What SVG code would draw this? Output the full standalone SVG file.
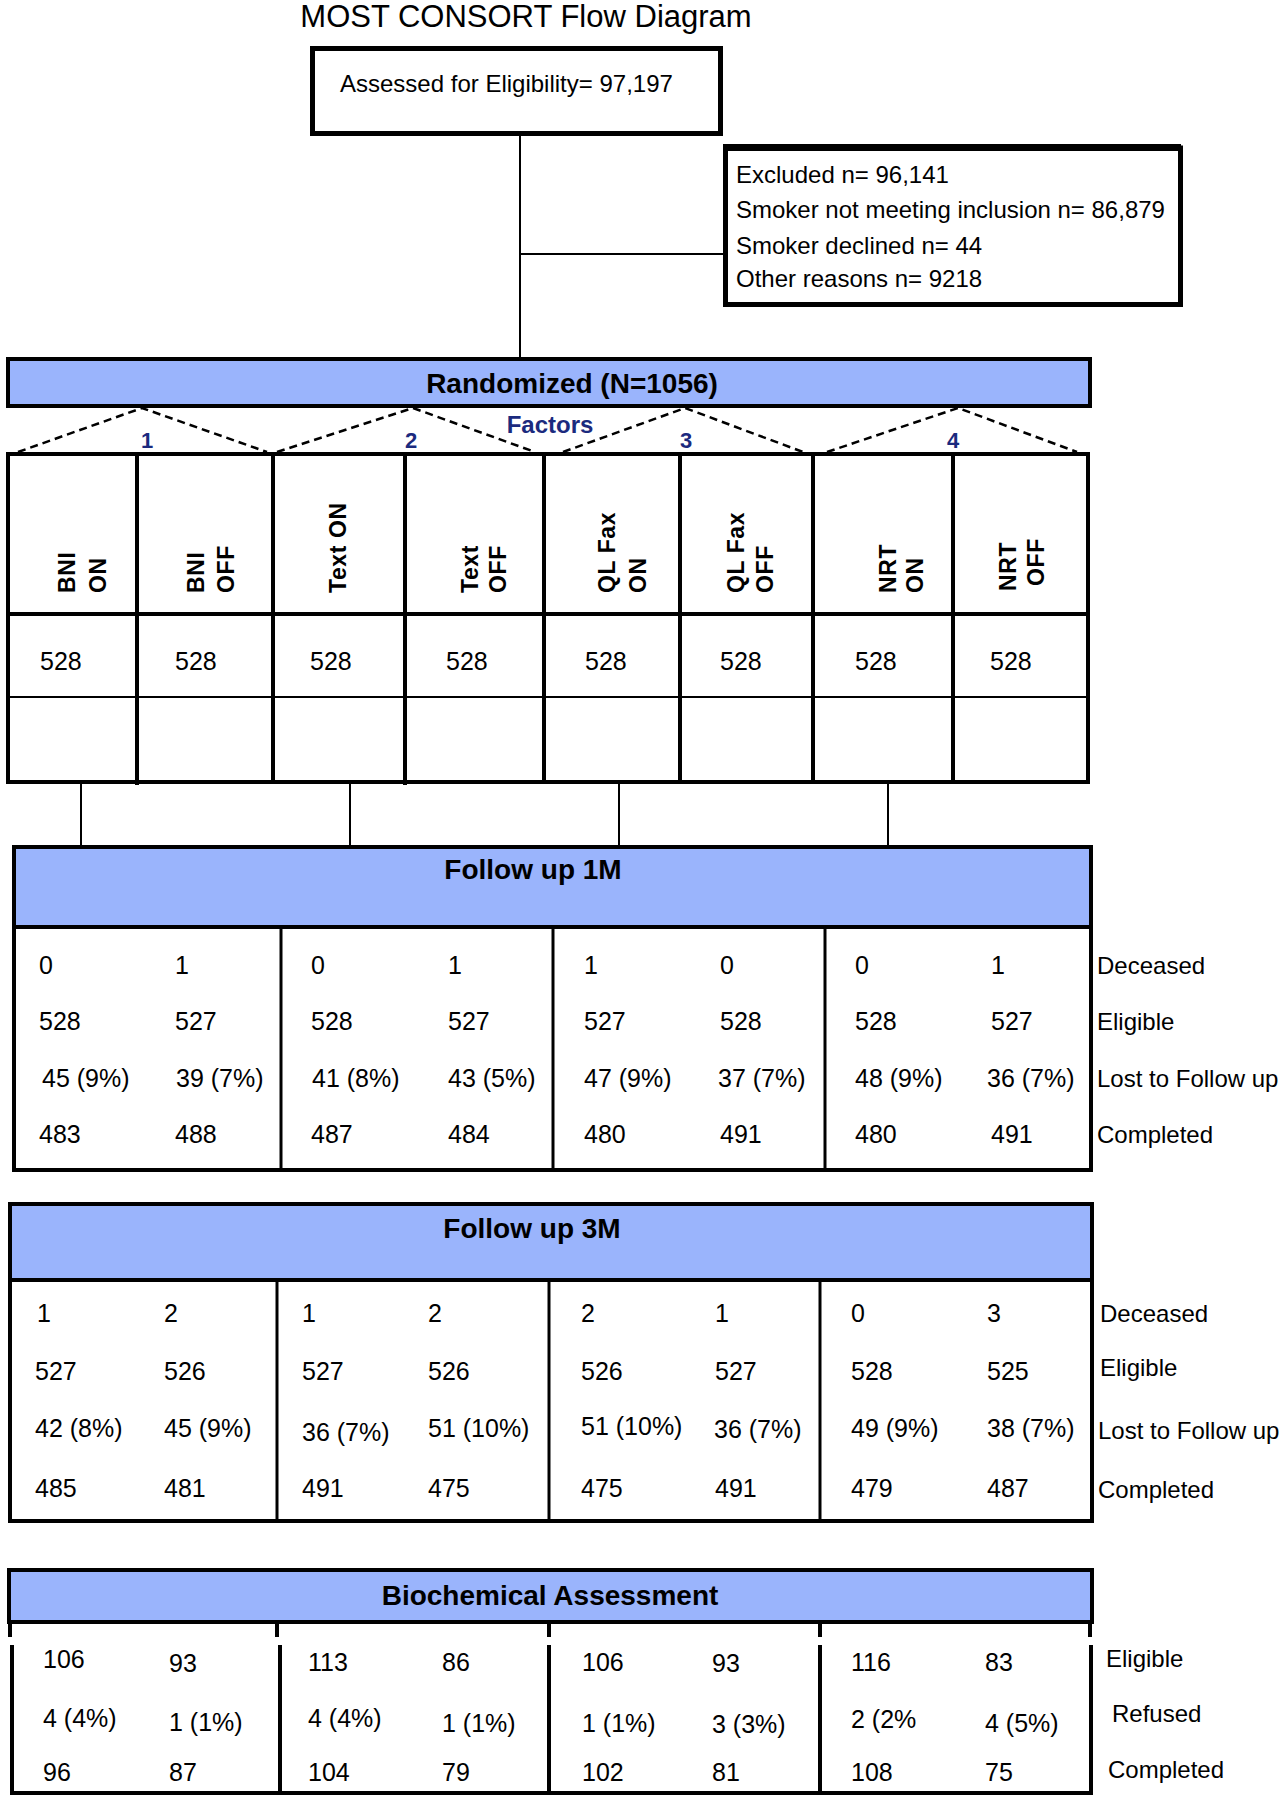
<svg xmlns="http://www.w3.org/2000/svg" width="1283" height="1800" viewBox="0 0 1283 1800">
<style>
text { font-family: "Liberation Sans", Arial, sans-serif; fill: #000; }
.title { font-size: 31px; text-anchor: middle; }
.t24 { font-size: 24px; }
.num { font-size: 25px; }
.lbl { font-size: 24px; }
.hdr { font-size: 28px; font-weight: bold; text-anchor: middle; }
.rot { font-size: 23px; font-weight: bold; letter-spacing: 0.6px; }
.fac { font-size: 22px; font-weight: bold; fill: #1B2A7E; text-anchor: middle; }
.facw { font-size: 24px; }
.box { fill: #fff; stroke: #000; stroke-width: 5; }
.blue { fill: #9AB4FC; stroke: #000; stroke-width: 4; }
.white { fill: #fff; stroke: #000; stroke-width: 4; }
.thick { stroke: #000; stroke-width: 4; fill: none; }
.mid { stroke: #000; stroke-width: 3; fill: none; }
.thin { stroke: #000; stroke-width: 2; fill: none; }
.dash { stroke: #000; stroke-width: 2.5; stroke-dasharray: 8 5; fill: none; }
</style>

<g id="title">
  <text class="title" x="526" y="27">MOST CONSORT Flow Diagram</text>
</g>

<g id="connectors">
  <line class="thin" x1="520" y1="136" x2="520" y2="357"/>
  <line class="thin" x1="520" y1="254" x2="723" y2="254"/>
  <line class="thin" x1="81" y1="784" x2="81" y2="845"/>
  <line class="thin" x1="350" y1="784" x2="350" y2="845"/>
  <line class="thin" x1="619" y1="784" x2="619" y2="845"/>
  <line class="thin" x1="888" y1="784" x2="888" y2="845"/>
  <polyline class="dash" points="18,452 142,408 267,452"/>
  <polyline class="dash" points="277,452 413,408 535,452"/>
  <polyline class="dash" points="563,452 685,408 803,452"/>
  <polyline class="dash" points="827,452 958,408 1077,452"/>
</g>

<g id="assessed">
  <rect class="box" x="312.5" y="48.5" width="408" height="85"/>
  <text class="t24" x="340" y="92">Assessed for Eligibility= 97,197</text>
</g>

<g id="excluded">
  <rect class="box" x="725.5" y="148" width="455" height="156.5"/>
  <rect x="723" y="144" width="458" height="7" fill="#000"/>
  <text class="t24" x="736" y="183">Excluded n= 96,141</text>
  <text class="t24" x="736" y="218">Smoker not meeting inclusion n= 86,879</text>
  <text class="t24" x="736" y="254">Smoker declined n= 44</text>
  <text class="t24" x="736" y="287">Other reasons n= 9218</text>
</g>

<g id="randomized">
  <rect class="blue" x="8" y="359" width="1082" height="47"/>
  <text class="hdr" x="572" y="393">Randomized (N=1056)</text>
</g>

<g id="factors">
  <text class="fac facw" x="550" y="433">Factors</text>
  <text class="fac" x="147" y="448">1</text>
  <text class="fac" x="411" y="448">2</text>
  <text class="fac" x="686" y="448">3</text>
  <text class="fac" x="953" y="448">4</text>
</g>

<g id="arms">
  <rect class="white" x="8" y="454" width="1080" height="328"/>
  <line class="thick" x1="137" y1="454" x2="137" y2="785"/>
  <line class="thick" x1="273" y1="454" x2="273" y2="782"/>
  <line class="thick" x1="405" y1="454" x2="405" y2="785"/>
  <line class="thick" x1="544" y1="454" x2="544" y2="782"/>
  <line class="thick" x1="680" y1="454" x2="680" y2="782"/>
  <line class="thick" x1="813" y1="454" x2="813" y2="782"/>
  <line class="thick" x1="953" y1="454" x2="953" y2="782"/>
  <line class="thick" x1="8" y1="614" x2="1088" y2="614"/>
  <line class="thin" x1="8" y1="697" x2="1088" y2="697"/>
  <text class="rot" transform="translate(75,593) rotate(-90)">BNI</text>
  <text class="rot" transform="translate(106,593) rotate(-90)">ON</text>
  <text class="rot" transform="translate(204,593) rotate(-90)">BNI</text>
  <text class="rot" transform="translate(234,593) rotate(-90)">OFF</text>
  <text class="rot" transform="translate(346,593) rotate(-90)">Text ON</text>
  <text class="rot" transform="translate(478,593) rotate(-90)">Text</text>
  <text class="rot" transform="translate(506,593) rotate(-90)">OFF</text>
  <text class="rot" transform="translate(615,593) rotate(-90)">QL Fax</text>
  <text class="rot" transform="translate(646,593) rotate(-90)">ON</text>
  <text class="rot" transform="translate(744,593) rotate(-90)">QL Fax</text>
  <text class="rot" transform="translate(773,593) rotate(-90)">OFF</text>
  <text class="rot" transform="translate(896,593) rotate(-90)">NRT</text>
  <text class="rot" transform="translate(923,593) rotate(-90)">ON</text>
  <text class="rot" transform="translate(1016,591) rotate(-90)">NRT</text>
  <text class="rot" transform="translate(1044,586) rotate(-90)">OFF</text>
  <text class="num" x="40" y="670">528</text>
  <text class="num" x="175" y="670">528</text>
  <text class="num" x="310" y="670">528</text>
  <text class="num" x="446" y="670">528</text>
  <text class="num" x="585" y="670">528</text>
  <text class="num" x="720" y="670">528</text>
  <text class="num" x="855" y="670">528</text>
  <text class="num" x="990" y="670">528</text>
</g>

<g id="followup1m">
  <rect class="white" x="14" y="847" width="1077" height="323"/>
  <rect class="blue" x="14" y="847" width="1077" height="80"/>
  <text class="hdr" x="533" y="879">Follow up 1M</text>
  <line class="mid" x1="281" y1="927" x2="281" y2="1170"/>
  <line class="mid" x1="553" y1="927" x2="553" y2="1170"/>
  <line class="mid" x1="825" y1="927" x2="825" y2="1170"/>
  <g class="num">
    <text x="39" y="974">0</text><text x="175" y="974">1</text><text x="311" y="974">0</text><text x="448" y="974">1</text>
    <text x="584" y="974">1</text><text x="720" y="974">0</text><text x="855" y="974">0</text><text x="991" y="974">1</text>
    <text x="39" y="1030">528</text><text x="175" y="1030">527</text><text x="311" y="1030">528</text><text x="448" y="1030">527</text>
    <text x="584" y="1030">527</text><text x="720" y="1030">528</text><text x="855" y="1030">528</text><text x="991" y="1030">527</text>
    <text x="42" y="1087">45 (9%)</text><text x="176" y="1087">39 (7%)</text><text x="312" y="1087">41 (8%)</text><text x="448" y="1087">43 (5%)</text>
    <text x="584" y="1087">47 (9%)</text><text x="718" y="1087">37 (7%)</text><text x="855" y="1087">48 (9%)</text><text x="987" y="1087">36 (7%)</text>
    <text x="39" y="1143">483</text><text x="175" y="1143">488</text><text x="311" y="1143">487</text><text x="448" y="1143">484</text>
    <text x="584" y="1143">480</text><text x="720" y="1143">491</text><text x="855" y="1143">480</text><text x="991" y="1143">491</text>
  </g>
  <g class="lbl">
    <text x="1097" y="974">Deceased</text>
    <text x="1097" y="1030">Eligible</text>
    <text x="1097" y="1087">Lost to Follow up</text>
    <text x="1097" y="1143">Completed</text>
  </g>
</g>

<g id="followup3m">
  <rect class="white" x="10" y="1204" width="1082" height="317"/>
  <rect class="blue" x="10" y="1204" width="1082" height="76"/>
  <text class="hdr" x="532" y="1238">Follow up 3M</text>
  <line class="mid" x1="277" y1="1280" x2="277" y2="1521"/>
  <line class="mid" x1="549" y1="1280" x2="549" y2="1521"/>
  <line class="mid" x1="820" y1="1280" x2="820" y2="1521"/>
  <g class="num">
    <text x="37" y="1322">1</text><text x="164" y="1322">2</text><text x="302" y="1322">1</text><text x="428" y="1322">2</text>
    <text x="581" y="1322">2</text><text x="715" y="1322">1</text><text x="851" y="1322">0</text><text x="987" y="1322">3</text>
    <text x="35" y="1380">527</text><text x="164" y="1380">526</text><text x="302" y="1380">527</text><text x="428" y="1380">526</text>
    <text x="581" y="1380">526</text><text x="715" y="1380">527</text><text x="851" y="1380">528</text><text x="987" y="1380">525</text>
    <text x="35" y="1437">42 (8%)</text><text x="164" y="1437">45 (9%)</text><text x="302" y="1441">36 (7%)</text><text x="428" y="1437">51 (10%)</text>
    <text x="581" y="1435">51 (10%)</text><text x="714" y="1438">36 (7%)</text><text x="851" y="1437">49 (9%)</text><text x="987" y="1437">38 (7%)</text>
    <text x="35" y="1497">485</text><text x="164" y="1497">481</text><text x="302" y="1497">491</text><text x="428" y="1497">475</text>
    <text x="581" y="1497">475</text><text x="715" y="1497">491</text><text x="851" y="1497">479</text><text x="987" y="1497">487</text>
  </g>
  <g class="lbl">
    <text x="1100" y="1322">Deceased</text>
    <text x="1100" y="1376">Eligible</text>
    <text x="1098" y="1439">Lost to Follow up</text>
    <text x="1098" y="1498">Completed</text>
  </g>
</g>

<g id="biochemical">
  <rect class="blue" x="9" y="1570" width="1083" height="52"/>
  <text class="hdr" x="550" y="1605">Biochemical Assessment</text>
  <line class="thick" x1="10" y1="1622" x2="10" y2="1637"/>
  <line class="thick" x1="277" y1="1622" x2="277" y2="1637"/>
  <line class="thick" x1="549" y1="1622" x2="549" y2="1637"/>
  <line class="thick" x1="820" y1="1622" x2="820" y2="1637"/>
  <line class="thick" x1="1090" y1="1622" x2="1090" y2="1637"/>
  <line class="thick" x1="12" y1="1645" x2="12" y2="1794"/>
  <line class="thick" x1="280" y1="1645" x2="280" y2="1794"/>
  <line class="thick" x1="549" y1="1645" x2="549" y2="1794"/>
  <line class="thick" x1="820" y1="1645" x2="820" y2="1794"/>
  <line class="thick" x1="1091" y1="1645" x2="1091" y2="1794"/>
  <line class="thick" x1="10" y1="1793" x2="1093" y2="1793"/>
  <g class="num">
    <text x="43" y="1668">106</text><text x="169" y="1672">93</text><text x="308" y="1671">113</text><text x="442" y="1671">86</text>
    <text x="582" y="1671">106</text><text x="712" y="1672">93</text><text x="851" y="1671">116</text><text x="985" y="1671">83</text>
    <text x="43" y="1727">4 (4%)</text><text x="169" y="1731">1 (1%)</text><text x="308" y="1727">4 (4%)</text><text x="442" y="1732">1 (1%)</text>
    <text x="582" y="1732">1 (1%)</text><text x="712" y="1733">3 (3%)</text><text x="851" y="1728">2 (2%</text><text x="985" y="1732">4 (5%)</text>
    <text x="43" y="1781">96</text><text x="169" y="1781">87</text><text x="308" y="1781">104</text><text x="442" y="1781">79</text>
    <text x="582" y="1781">102</text><text x="712" y="1781">81</text><text x="851" y="1781">108</text><text x="985" y="1781">75</text>
  </g>
  <g class="lbl">
    <text x="1106" y="1667">Eligible</text>
    <text x="1112" y="1722">Refused</text>
    <text x="1108" y="1778">Completed</text>
  </g>
</g>
</svg>
